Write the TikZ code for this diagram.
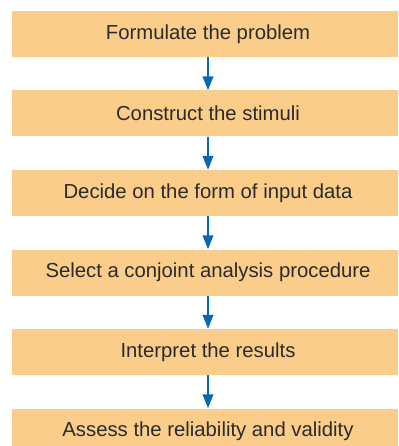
\documentclass[tikz,border=0pt]{standalone}
\usepackage{fontspec}
\setmainfont{Liberation Sans}
\usetikzlibrary{arrows.meta,positioning}
\definecolor{stepPeach}{HTML}{FACD8B}
\definecolor{stepBlue}{HTML}{0B67B2}
\definecolor{stepInk}{HTML}{2B2B2B}
\begin{document}
\begin{tikzpicture}[x=1pt,y=-1pt,>=Latex,line cap=butt,line join=miter]
\clip (0,0) rectangle (398,446);
\path[fill=white] (0,0) rectangle (398,446);
\tikzset{stagebox/.style={fill=stepPeach,minimum width=392pt,minimum height=46pt,inner sep=0pt,text=stepInk,font=\fontsize{20.3}{24}\selectfont},flow/.style={draw=stepBlue,line width=2.2pt,-{Triangle[length=14pt,width=10.5pt]}}}
\node[stagebox] (formulate) at (208,34) {Formulate the problem};
\node[stagebox] (construct) at (208,113.5) {Construct the stimuli};
\node[stagebox] (decide) at (208,193) {Decide on the form of input data};
\node[stagebox] (select) at (208,272.5) {Select a conjoint analysis procedure};
\node[stagebox] (interpret) at (208,352) {Interpret the results};
\node[stagebox] (assess) at (208,431.5) {Assess the reliability and validity};
\draw[flow] (formulate) -- (construct); \draw[flow] (construct) -- (decide); \draw[flow] (decide) -- (select);
\draw[flow] (select) -- (interpret); \draw[flow] (interpret) -- (assess);
\end{tikzpicture}
\end{document}
